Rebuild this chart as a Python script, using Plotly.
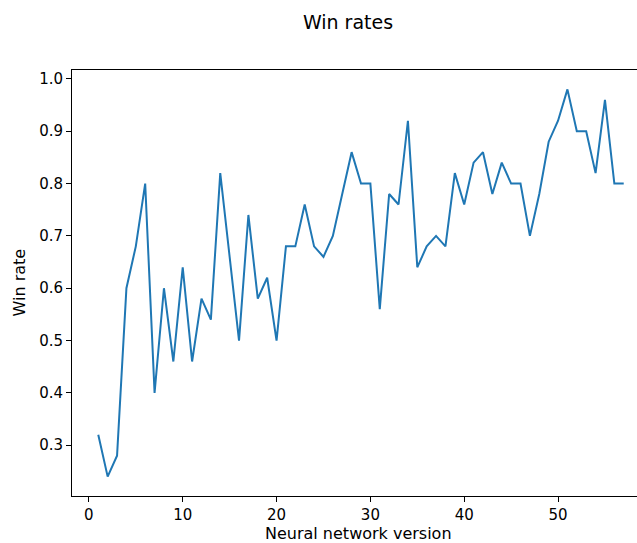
import plotly.graph_objects as go

# Win rate of each neural network version
versions = list(range(1, 58))
win_rates = [
    0.32, 0.24, 0.28, 0.60, 0.68, 0.80, 0.40, 0.60, 0.46, 0.64,
    0.46, 0.58, 0.54, 0.82, 0.66, 0.50, 0.74, 0.58, 0.62, 0.50,
    0.68, 0.68, 0.76, 0.68, 0.66, 0.70, 0.78, 0.86, 0.80, 0.80,
    0.56, 0.78, 0.76, 0.92, 0.64, 0.68, 0.70, 0.68, 0.82, 0.76,
    0.84, 0.86, 0.78, 0.84, 0.80, 0.80, 0.70, 0.78, 0.88, 0.92,
    0.98, 0.90, 0.90, 0.82, 0.96, 0.80, 0.80,
]
x_ticks = [0, 10, 20, 30, 40, 50]
y_ticks = [0.3, 0.4, 0.5, 0.6, 0.7, 0.8, 0.9, 1.0]

W, H = 637, 543

fig = go.Figure(
    go.Scatter(
        x=versions, y=win_rates, mode="lines",
        line=dict(color="#1f77b4", width=2),
    )
)

tick_font = dict(family="DejaVu Sans", size=15, color="#000000")
label_font = dict(family="DejaVu Sans", size=16, color="#000000")
axis_common = dict(
    showgrid=False, zeroline=False, showline=True, linecolor="#000000",
    linewidth=1, ticks="outside", ticklen=5, tickwidth=1,
    tickcolor="#000000", tickfont=tick_font,
)

xmin, xmax = min(versions), max(versions)
ymin, ymax = min(win_rates), max(win_rates)
xpad = (xmax - xmin) * 0.05
ypad = (ymax - ymin) * 0.05

# The axes run a little past the right edge of the canvas, so the x range
# is cut where the page ends and no right-hand frame line is drawn.
x_lo = xmin - xpad
x_hi_full = xmax + xpad
visible_frac = (W - 72) / (650 - 72)
x_hi = x_lo + (x_hi_full - x_lo) * visible_frac

fig.update_layout(
    width=W, height=H,
    margin=dict(l=72, r=0, t=70, b=47),
    paper_bgcolor="white", plot_bgcolor="white",
    showlegend=False,
    font=tick_font,
    title=dict(text="Win rates", x=348 / W, xanchor="center",
               y=1 - 22 / H, yanchor="middle",
               font=dict(family="DejaVu Sans", size=19, color="#000000")),
    xaxis=dict(axis_common, mirror=True, range=[x_lo, x_hi],
               tickvals=x_ticks, ticktext=[str(t) for t in x_ticks]),
    yaxis=dict(axis_common, mirror=False, range=[ymin - ypad, ymax + ypad],
               tickvals=y_ticks, ticktext=[f"{t:.1f}" for t in y_ticks]),
    annotations=[
        dict(text="Neural network version", xref="paper", yref="paper",
             x=(358 - 72) / (W - 72), y=-(533 - 496) / (496 - 70),
             xanchor="center", yanchor="middle", showarrow=False,
             font=label_font),
        dict(text="Win rate", xref="paper", yref="paper",
             x=-(72 - 18.5) / (W - 72), y=0.5,
             xanchor="center", yanchor="middle", showarrow=False,
             textangle=-90, font=label_font),
    ],
)

fig.write_html("out.html")
